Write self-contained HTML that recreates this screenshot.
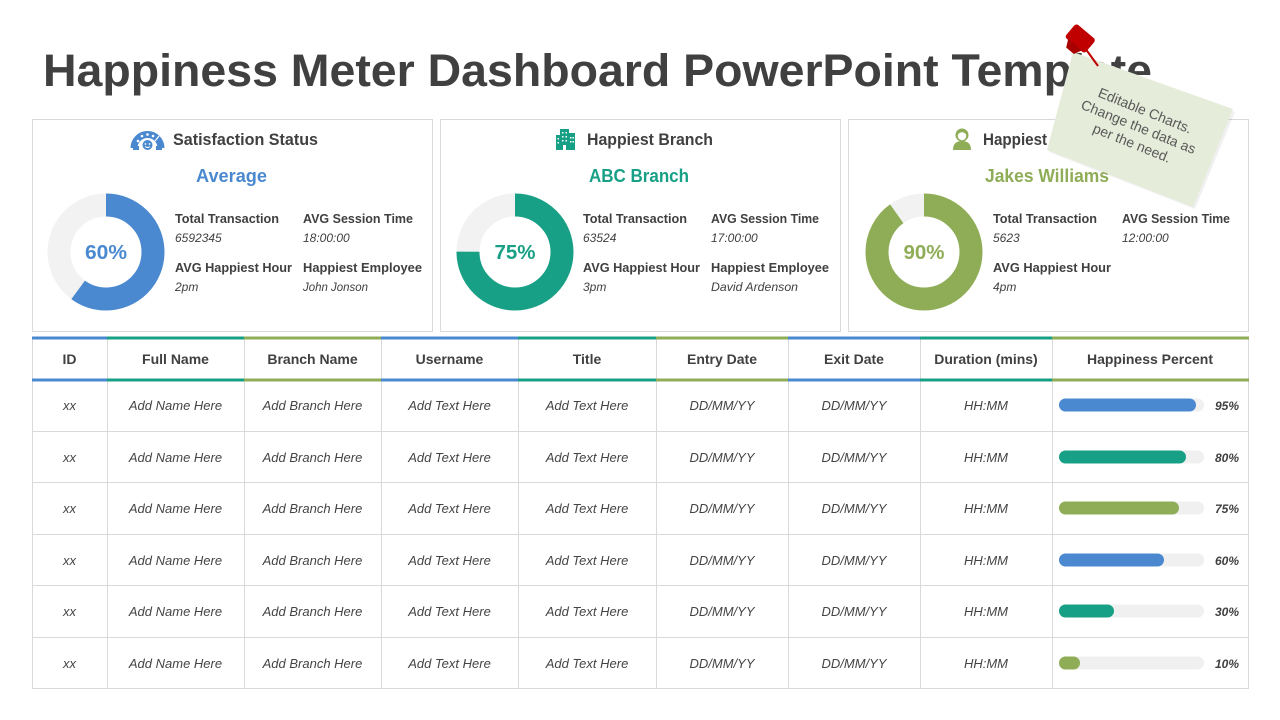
<!DOCTYPE html>
<html>
<head>
<meta charset="utf-8">
<style>
  html, body { margin: 0; padding: 0; background: #ffffff; }
  body { width: 1280px; height: 720px; overflow: hidden; }
  svg { display: block; }
</style>
</head>
<body>
<svg width="1280" height="720" viewBox="0 0 1280 720" xmlns="http://www.w3.org/2000/svg" font-family="'Liberation Sans', sans-serif">
  <rect x="0" y="0" width="1280" height="720" fill="#ffffff"/>

  <!-- Title -->
  <text x="43" y="86" font-size="45" font-weight="bold" fill="#404040" textLength="1109" lengthAdjust="spacingAndGlyphs">Happiness Meter Dashboard PowerPoint Template</text>

  <!-- Cards -->
  <rect x="32.5" y="119.5" width="400" height="212" fill="#ffffff" stroke="#d9d9d9" stroke-width="1"/>
  <rect x="440.5" y="119.5" width="400" height="212" fill="#ffffff" stroke="#d9d9d9" stroke-width="1"/>
  <rect x="848.5" y="119.5" width="400" height="212" fill="#ffffff" stroke="#d9d9d9" stroke-width="1"/>

  <!-- Card 1 icon: gauge -->
  <g>
    <path d="M134 148 A13.5 13.5 0 0 1 161 148" fill="none" stroke="#4a89d0" stroke-width="7"/>
    <circle cx="138" cy="141" r="1.3" fill="#fff"/>
    <circle cx="142" cy="136" r="1.3" fill="#fff"/>
    <circle cx="147.5" cy="134.5" r="1.3" fill="#fff"/>
    <circle cx="153" cy="136" r="1.3" fill="#fff"/>
    <line x1="155" y1="141" x2="159" y2="136" stroke="#fff" stroke-width="1.2"/>
    <circle cx="147.5" cy="145" r="5" fill="#4a89d0"/>
    <circle cx="145.5" cy="144" r="0.9" fill="#fff"/>
    <circle cx="149.5" cy="144" r="0.9" fill="#fff"/>
    <path d="M145 146.5 Q147.5 148.5 150 146.5" fill="none" stroke="#fff" stroke-width="0.9"/>
    <rect x="133" y="146" width="6" height="4" fill="#4a89d0"/>
    <rect x="156" y="146" width="6" height="4" fill="#4a89d0"/>
  </g>
  <text x="173" y="145" font-size="17" font-weight="bold" fill="#404040" textLength="145" lengthAdjust="spacingAndGlyphs">Satisfaction Status</text>
  <text x="231.5" y="182" font-size="18" font-weight="bold" fill="#4a89d0" text-anchor="middle" textLength="71" lengthAdjust="spacingAndGlyphs">Average</text>

  <!-- Card 1 donut -->
  <circle cx="106" cy="252" r="47" fill="none" stroke="#f2f2f2" stroke-width="23"/>
  <circle cx="106" cy="252" r="47" fill="none" stroke="#4a89d0" stroke-width="23" stroke-dasharray="177.19 400" transform="rotate(-90 106 252)"/>
  <text x="106" y="259" font-size="20" font-weight="bold" fill="#4a89d0" text-anchor="middle" textLength="42" lengthAdjust="spacingAndGlyphs">60%</text>

  <g fill="#404040">
    <text x="175" y="223" font-size="13" font-weight="bold" textLength="104" lengthAdjust="spacingAndGlyphs">Total Transaction</text>
    <text x="175" y="242" font-size="12" font-style="italic">6592345</text>
    <text x="303" y="223" font-size="13" font-weight="bold" textLength="110" lengthAdjust="spacingAndGlyphs">AVG Session Time</text>
    <text x="303" y="242" font-size="12" font-style="italic">18:00:00</text>
    <text x="175" y="272" font-size="13" font-weight="bold" textLength="117" lengthAdjust="spacingAndGlyphs">AVG Happiest Hour</text>
    <text x="175" y="291" font-size="12" font-style="italic">2pm</text>
    <text x="303" y="272" font-size="13" font-weight="bold" textLength="119" lengthAdjust="spacingAndGlyphs">Happiest Employee</text>
    <text x="303" y="291" font-size="12" font-style="italic" textLength="65" lengthAdjust="spacingAndGlyphs">John Jonson</text>
  </g>

  <!-- Card 2 icon: buildings -->
  <g fill="#17a085">
    <rect x="560" y="129" width="9" height="21"/>
    <rect x="556" y="135" width="5" height="15"/>
    <rect x="568" y="133" width="7" height="17"/>
    <g fill="#ffffff">
      <rect x="562" y="132" width="1.5" height="1.5"/><rect x="565.5" y="132" width="1.5" height="1.5"/>
      <rect x="562" y="136" width="1.5" height="1.5"/><rect x="565.5" y="136" width="1.5" height="1.5"/>
      <rect x="562" y="140" width="1.5" height="1.5"/><rect x="565.5" y="140" width="1.5" height="1.5"/>
      <rect x="557.5" y="138" width="1.5" height="1.5"/><rect x="557.5" y="142" width="1.5" height="1.5"/>
      <rect x="570" y="137" width="1.5" height="1.5"/><rect x="572.5" y="137" width="1.5" height="1.5"/>
      <rect x="570" y="141" width="1.5" height="1.5"/><rect x="572.5" y="141" width="1.5" height="1.5"/>
      <rect x="563" y="145" width="3" height="5"/>
    </g>
  </g>
  <text x="587" y="145" font-size="17" font-weight="bold" fill="#404040" textLength="126" lengthAdjust="spacingAndGlyphs">Happiest Branch</text>
  <text x="639" y="182" font-size="18" font-weight="bold" fill="#17a085" text-anchor="middle" textLength="100" lengthAdjust="spacingAndGlyphs">ABC Branch</text>

  <!-- Card 2 donut -->
  <circle cx="515" cy="252" r="47" fill="none" stroke="#f2f2f2" stroke-width="23"/>
  <circle cx="515" cy="252" r="47" fill="none" stroke="#17a085" stroke-width="23" stroke-dasharray="221.48 400" transform="rotate(-90 515 252)"/>
  <text x="515" y="259" font-size="20" font-weight="bold" fill="#17a085" text-anchor="middle" textLength="41" lengthAdjust="spacingAndGlyphs">75%</text>

  <g fill="#404040">
    <text x="583" y="223" font-size="13" font-weight="bold" textLength="104" lengthAdjust="spacingAndGlyphs">Total Transaction</text>
    <text x="583" y="242" font-size="12" font-style="italic">63524</text>
    <text x="711" y="223" font-size="13" font-weight="bold" textLength="108" lengthAdjust="spacingAndGlyphs">AVG Session Time</text>
    <text x="711" y="242" font-size="12" font-style="italic">17:00:00</text>
    <text x="583" y="272" font-size="13" font-weight="bold" textLength="117" lengthAdjust="spacingAndGlyphs">AVG Happiest Hour</text>
    <text x="583" y="291" font-size="12" font-style="italic">3pm</text>
    <text x="711" y="272" font-size="13" font-weight="bold" textLength="118" lengthAdjust="spacingAndGlyphs">Happiest Employee</text>
    <text x="711" y="291" font-size="12" font-style="italic" textLength="87" lengthAdjust="spacingAndGlyphs">David Ardenson</text>
  </g>

  <!-- Card 3 icon: person -->
  <g fill="#8fad57">
    <circle cx="962" cy="135" r="6.5"/>
    <path d="M953 150 Q953 141 962 141 Q971 141 971 150 Z"/>
    <circle cx="962" cy="136" r="4.2" fill="#ffffff"/>
    <path d="M957.5 134.5 Q962 130 966.5 134.5 L966.5 132 Q962 128.5 957.5 132 Z"/>
  </g>
  <text x="983" y="145" font-size="17" font-weight="bold" fill="#404040" textLength="140" lengthAdjust="spacingAndGlyphs">Happiest Employee</text>
  <text x="1047" y="182" font-size="18" font-weight="bold" fill="#8fad57" text-anchor="middle" textLength="124" lengthAdjust="spacingAndGlyphs">Jakes Williams</text>

  <!-- Card 3 donut -->
  <circle cx="924" cy="252" r="47" fill="none" stroke="#f2f2f2" stroke-width="23"/>
  <circle cx="924" cy="252" r="47" fill="none" stroke="#8fad57" stroke-width="23" stroke-dasharray="265.78 400" transform="rotate(-90 924 252)"/>
  <text x="924" y="259" font-size="20" font-weight="bold" fill="#8fad57" text-anchor="middle" textLength="41" lengthAdjust="spacingAndGlyphs">90%</text>

  <g fill="#404040">
    <text x="993" y="223" font-size="13" font-weight="bold" textLength="104" lengthAdjust="spacingAndGlyphs">Total Transaction</text>
    <text x="993" y="242" font-size="12" font-style="italic">5623</text>
    <text x="1122" y="223" font-size="13" font-weight="bold" textLength="108" lengthAdjust="spacingAndGlyphs">AVG Session Time</text>
    <text x="1122" y="242" font-size="12" font-style="italic">12:00:00</text>
    <text x="993" y="272" font-size="13" font-weight="bold" textLength="118" lengthAdjust="spacingAndGlyphs">AVG Happiest Hour</text>
    <text x="993" y="291" font-size="12" font-style="italic">4pm</text>
  </g>

  <!-- Table grid -->
  <g stroke="#d9d9d9" stroke-width="1">
    <line x1="32.5" y1="339" x2="32.5" y2="689"/>
    <line x1="107.5" y1="339" x2="107.5" y2="689"/>
    <line x1="244.5" y1="339" x2="244.5" y2="689"/>
    <line x1="381.5" y1="339" x2="381.5" y2="689"/>
    <line x1="518.5" y1="339" x2="518.5" y2="689"/>
    <line x1="656.5" y1="339" x2="656.5" y2="689"/>
    <line x1="788.5" y1="339" x2="788.5" y2="689"/>
    <line x1="920.5" y1="339" x2="920.5" y2="689"/>
    <line x1="1052.5" y1="339" x2="1052.5" y2="689"/>
    <line x1="1248.5" y1="339" x2="1248.5" y2="689"/>
    <line x1="32" y1="431.5" x2="1249" y2="431.5"/>
    <line x1="32" y1="482.5" x2="1249" y2="482.5"/>
    <line x1="32" y1="534.5" x2="1249" y2="534.5"/>
    <line x1="32" y1="585.5" x2="1249" y2="585.5"/>
    <line x1="32" y1="637.5" x2="1249" y2="637.5"/>
    <line x1="32" y1="688.5" x2="1249" y2="688.5"/>
  </g>

  <!-- Header colored lines -->
  <g>
    <rect x="32" y="336.5" width="75" height="3" fill="#4a89d0"/>
    <rect x="107" y="336.5" width="137" height="3" fill="#17a085"/>
    <rect x="244" y="336.5" width="137" height="3" fill="#8fad57"/>
    <rect x="381" y="336.5" width="137" height="3" fill="#4a89d0"/>
    <rect x="518" y="336.5" width="138" height="3" fill="#17a085"/>
    <rect x="656" y="336.5" width="132" height="3" fill="#8fad57"/>
    <rect x="788" y="336.5" width="132" height="3" fill="#4a89d0"/>
    <rect x="920" y="336.5" width="132" height="3" fill="#17a085"/>
    <rect x="1052" y="336.5" width="197" height="3" fill="#8fad57"/>

    <rect x="32" y="378.5" width="75" height="3" fill="#4a89d0"/>
    <rect x="107" y="378.5" width="137" height="3" fill="#17a085"/>
    <rect x="244" y="378.5" width="137" height="3" fill="#8fad57"/>
    <rect x="381" y="378.5" width="137" height="3" fill="#4a89d0"/>
    <rect x="518" y="378.5" width="138" height="3" fill="#17a085"/>
    <rect x="656" y="378.5" width="132" height="3" fill="#8fad57"/>
    <rect x="788" y="378.5" width="132" height="3" fill="#4a89d0"/>
    <rect x="920" y="378.5" width="132" height="3" fill="#17a085"/>
    <rect x="1052" y="378.5" width="197" height="3" fill="#8fad57"/>
  </g>

  <!-- Header text -->
  <g font-size="14" font-weight="bold" fill="#404040" text-anchor="middle">
    <text x="69.5" y="364">ID</text>
    <text x="175.5" y="364">Full Name</text>
    <text x="312.5" y="364">Branch Name</text>
    <text x="449.5" y="364">Username</text>
    <text x="587" y="364">Title</text>
    <text x="722" y="364">Entry Date</text>
    <text x="854" y="364">Exit Date</text>
    <text x="986" y="364">Duration (mins)</text>
    <text x="1150" y="364">Happiness Percent</text>
  </g>

  <!-- Rows text -->
  <g font-size="13" font-style="italic" fill="#444444" text-anchor="middle">
    <text x="69.5" y="410">xx</text><text x="175.5" y="410">Add Name Here</text><text x="312.5" y="410">Add Branch Here</text><text x="449.5" y="410">Add Text Here</text><text x="587" y="410">Add Text Here</text><text x="722" y="410">DD/MM/YY</text><text x="854" y="410">DD/MM/YY</text><text x="986" y="410">HH:MM</text>
    <text x="69.5" y="462">xx</text><text x="175.5" y="462">Add Name Here</text><text x="312.5" y="462">Add Branch Here</text><text x="449.5" y="462">Add Text Here</text><text x="587" y="462">Add Text Here</text><text x="722" y="462">DD/MM/YY</text><text x="854" y="462">DD/MM/YY</text><text x="986" y="462">HH:MM</text>
    <text x="69.5" y="513">xx</text><text x="175.5" y="513">Add Name Here</text><text x="312.5" y="513">Add Branch Here</text><text x="449.5" y="513">Add Text Here</text><text x="587" y="513">Add Text Here</text><text x="722" y="513">DD/MM/YY</text><text x="854" y="513">DD/MM/YY</text><text x="986" y="513">HH:MM</text>
    <text x="69.5" y="565">xx</text><text x="175.5" y="565">Add Name Here</text><text x="312.5" y="565">Add Branch Here</text><text x="449.5" y="565">Add Text Here</text><text x="587" y="565">Add Text Here</text><text x="722" y="565">DD/MM/YY</text><text x="854" y="565">DD/MM/YY</text><text x="986" y="565">HH:MM</text>
    <text x="69.5" y="616">xx</text><text x="175.5" y="616">Add Name Here</text><text x="312.5" y="616">Add Branch Here</text><text x="449.5" y="616">Add Text Here</text><text x="587" y="616">Add Text Here</text><text x="722" y="616">DD/MM/YY</text><text x="854" y="616">DD/MM/YY</text><text x="986" y="616">HH:MM</text>
    <text x="69.5" y="668">xx</text><text x="175.5" y="668">Add Name Here</text><text x="312.5" y="668">Add Branch Here</text><text x="449.5" y="668">Add Text Here</text><text x="587" y="668">Add Text Here</text><text x="722" y="668">DD/MM/YY</text><text x="854" y="668">DD/MM/YY</text><text x="986" y="668">HH:MM</text>
  </g>

  <!-- Bars -->
  <g>
    <rect x="1059" y="398.5" width="145" height="13" rx="6.5" fill="#f0f0f0"/>
    <rect x="1059" y="398.5" width="137" height="13" rx="6.5" fill="#4a89d0"/>
    <rect x="1059" y="450.5" width="145" height="13" rx="6.5" fill="#f0f0f0"/>
    <rect x="1059" y="450.5" width="127" height="13" rx="6.5" fill="#17a085"/>
    <rect x="1059" y="501.5" width="145" height="13" rx="6.5" fill="#f0f0f0"/>
    <rect x="1059" y="501.5" width="120" height="13" rx="6.5" fill="#8fad57"/>
    <rect x="1059" y="553.5" width="145" height="13" rx="6.5" fill="#f0f0f0"/>
    <rect x="1059" y="553.5" width="105" height="13" rx="6.5" fill="#4a89d0"/>
    <rect x="1059" y="604.5" width="145" height="13" rx="6.5" fill="#f0f0f0"/>
    <rect x="1059" y="604.5" width="55" height="13" rx="6.5" fill="#17a085"/>
    <rect x="1059" y="656.5" width="145" height="13" rx="6.5" fill="#f0f0f0"/>
    <rect x="1059" y="656.5" width="21" height="13" rx="6.5" fill="#8fad57"/>
  </g>
  <g font-size="12" font-style="italic" font-weight="bold" fill="#404040" text-anchor="end">
    <text x="1239" y="410">95%</text>
    <text x="1239" y="462">80%</text>
    <text x="1239" y="513">75%</text>
    <text x="1239" y="565">60%</text>
    <text x="1239" y="616">30%</text>
    <text x="1239" y="668">10%</text>
  </g>

  <!-- Sticky note -->
  <polygon points="1075,54 1235,112 1195,209 1049,152" fill="#000000" opacity="0.06"/>
  <polygon points="1073,52 1233,109 1193,207 1047,150" fill="#e6ecda"/>
  <g transform="translate(1138,128) rotate(22)" font-size="14" fill="#595959" text-anchor="middle">
    <text x="0" y="-14">Editable Charts.</text>
    <text x="0" y="3.5">Change the data as</text>
    <text x="0" y="21">per the need.</text>
  </g>

  <!-- Pin -->
  <line x1="1085" y1="48" x2="1098" y2="66" stroke="#c00000" stroke-width="2"/>
  <g transform="rotate(40 1079 40)">
    <rect x="1066" y="29" width="26" height="18" rx="3" fill="#c00000"/>
    <polygon points="1070,46 1088,46 1084,54 1074,54" fill="#a80000"/>
  </g>
</svg>
</body>
</html>
